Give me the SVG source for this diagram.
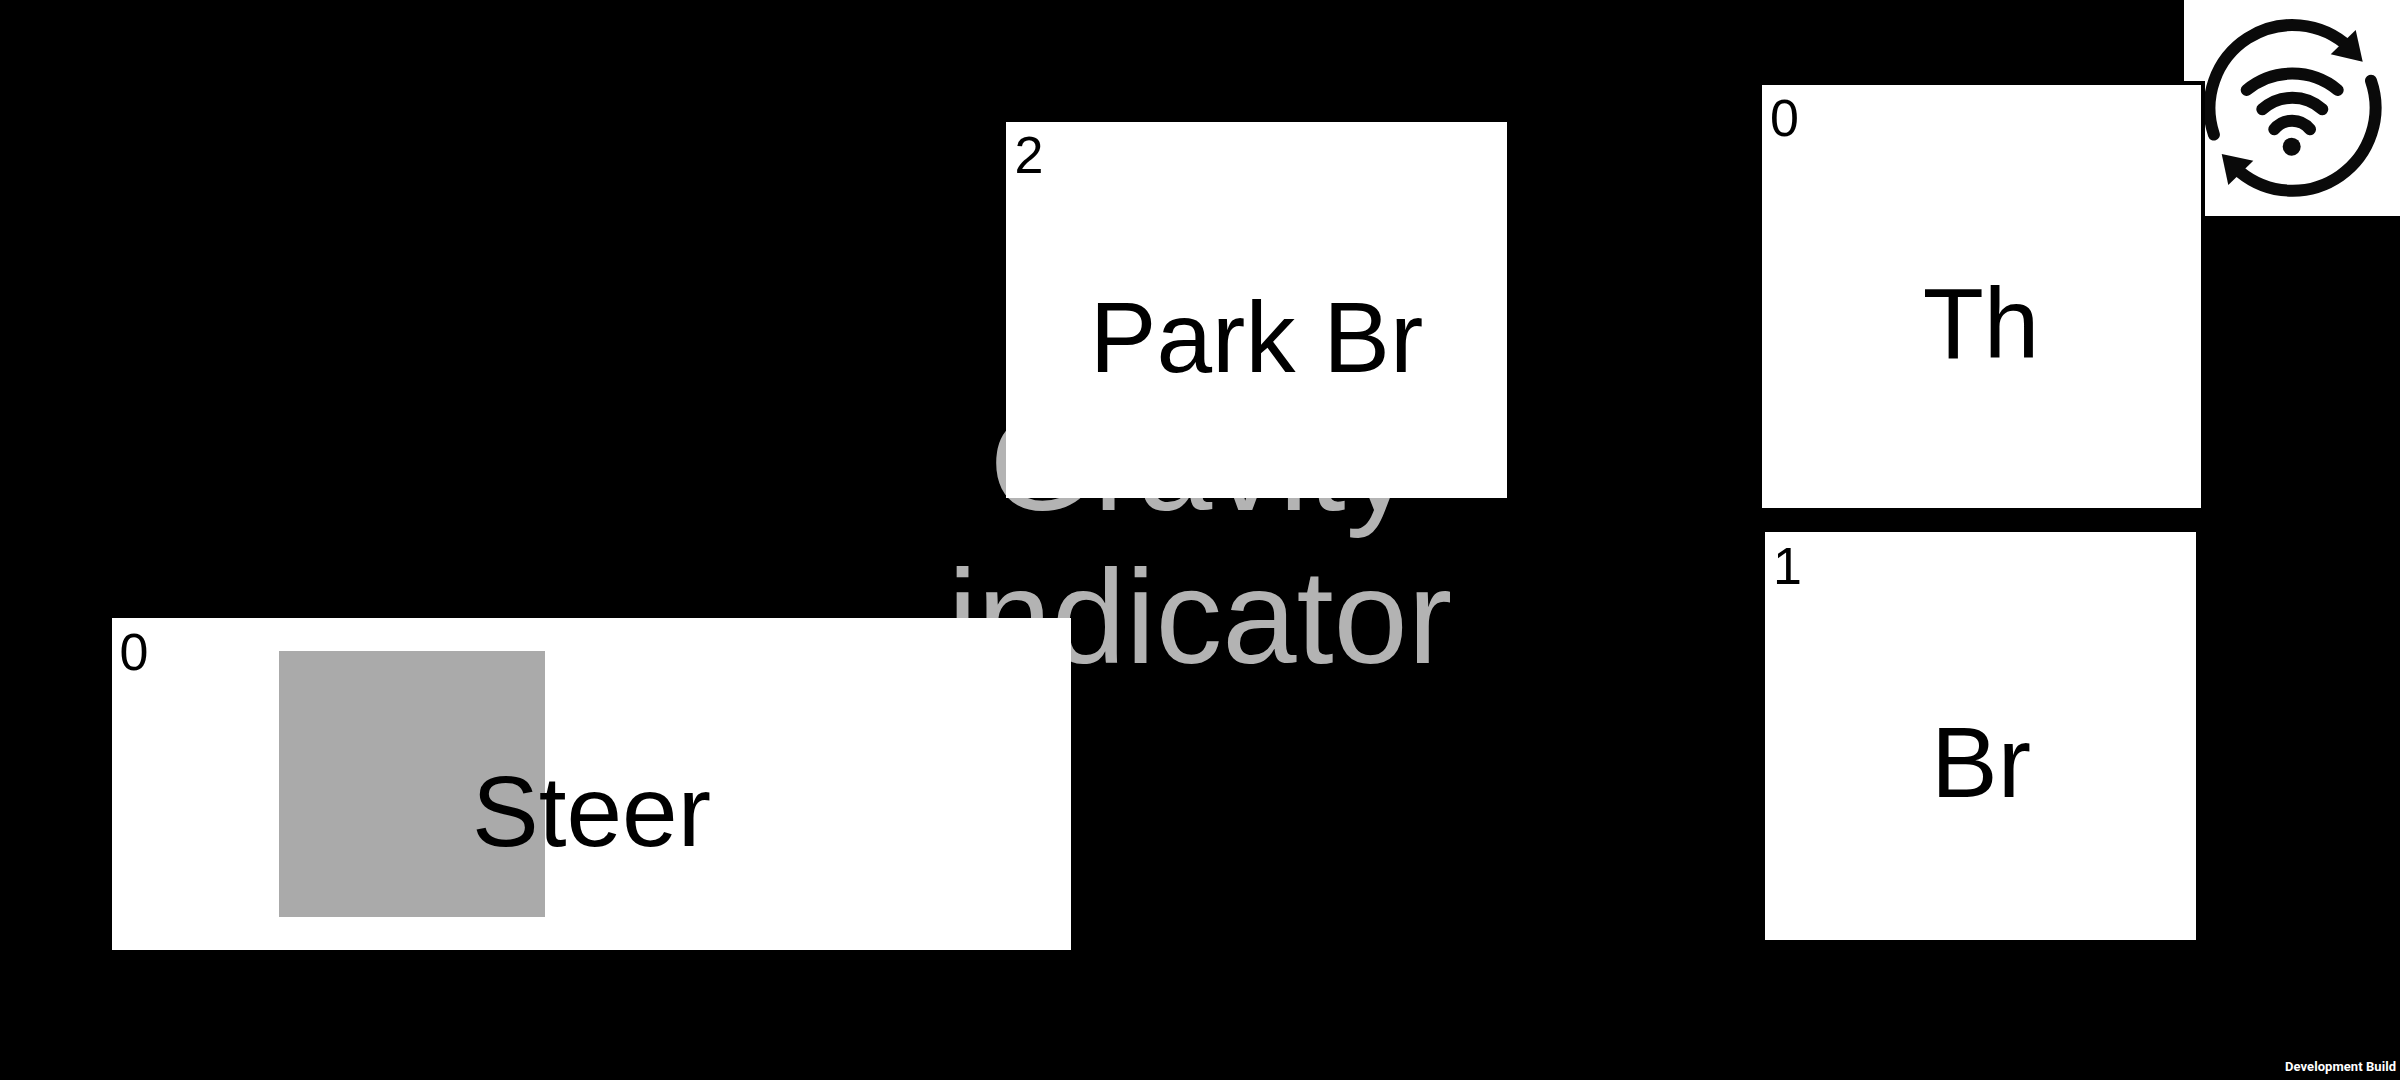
<svg xmlns="http://www.w3.org/2000/svg" width="2400" height="1080" viewBox="0 0 2400 1080">
<style>
text{font-family:"Liberation Sans",Arial,sans-serif;fill:#000}
.box{fill:#fff}
.lab{font-size:100px;text-anchor:middle}
.num{font-size:52px}
.grav{font-size:133.5px;text-anchor:middle;fill:#b3b3b3}
.ic{fill:none;stroke:#0a0a0a;stroke-width:12;stroke-linecap:round}
.ah{fill:#0a0a0a}
</style>
<rect width="2400" height="1080" fill="#000"/>
<g id="gravity-indicator">
<text class="grav" x="1201" y="510">Gravity</text>
<text class="grav" x="1200" y="663">indicator</text>
</g>
<g id="steer">
<rect class="box" x="112" y="618" width="959" height="332"/>
<rect x="279" y="651" width="266" height="266" fill="#aaa"/>
<text class="num" x="119.5" y="670">0</text>
<text class="lab" x="591.5" y="846">Steer</text>
</g>
<g id="park-br">
<rect class="box" x="1006" y="122" width="501" height="376"/>
<text class="num" x="1014.5" y="173">2</text>
<text class="lab" x="1256.5" y="372">Park Br</text>
</g>
<g id="wifi-icon">
<rect class="box" x="2184" y="0" width="216" height="216"/>
<path class="ic" d="M2213.9 134.6A83 83 0 0 1 2349.2 47.4"/>
<path class="ah" d="M2355.7 30L2362.7 61.7L2330.7 54.3Z"/>
<path class="ic" d="M2371 80.7A83 83 0 0 1 2240 172"/>
<path class="ah" d="M2221.7 154L2253.3 160.7L2228.3 185Z"/>
<path class="ic" d="M2246.7 90A71.3 71.3 0 0 1 2337.7 90"/>
<path class="ic" d="M2262.3 109.3A44.8 44.8 0 0 1 2322.3 109.3"/>
<path class="ic" d="M2274.3 129.3A22.8 22.8 0 0 1 2310 129.3"/>
<circle class="ah" cx="2291.7" cy="146.7" r="9"/>
</g>
<g id="th">
<rect class="box" x="1762" y="85" width="439" height="423"/>
<path d="M2184 83H2203V216" fill="none" stroke="#000" stroke-width="4"/>
<text class="num" x="1770" y="136">0</text>
<text class="lab" x="1981" y="358">Th</text>
</g>
<g id="br">
<rect class="box" x="1765" y="532" width="431" height="408"/>
<text class="num" x="1773" y="584">1</text>
<text class="lab" x="1981" y="797">Br</text>
</g>
<text x="2285" y="1071" textLength="111" style="font-family:Roboto,sans-serif;font-weight:700;font-size:13px;fill:#fff">Development Build</text>
</svg>
